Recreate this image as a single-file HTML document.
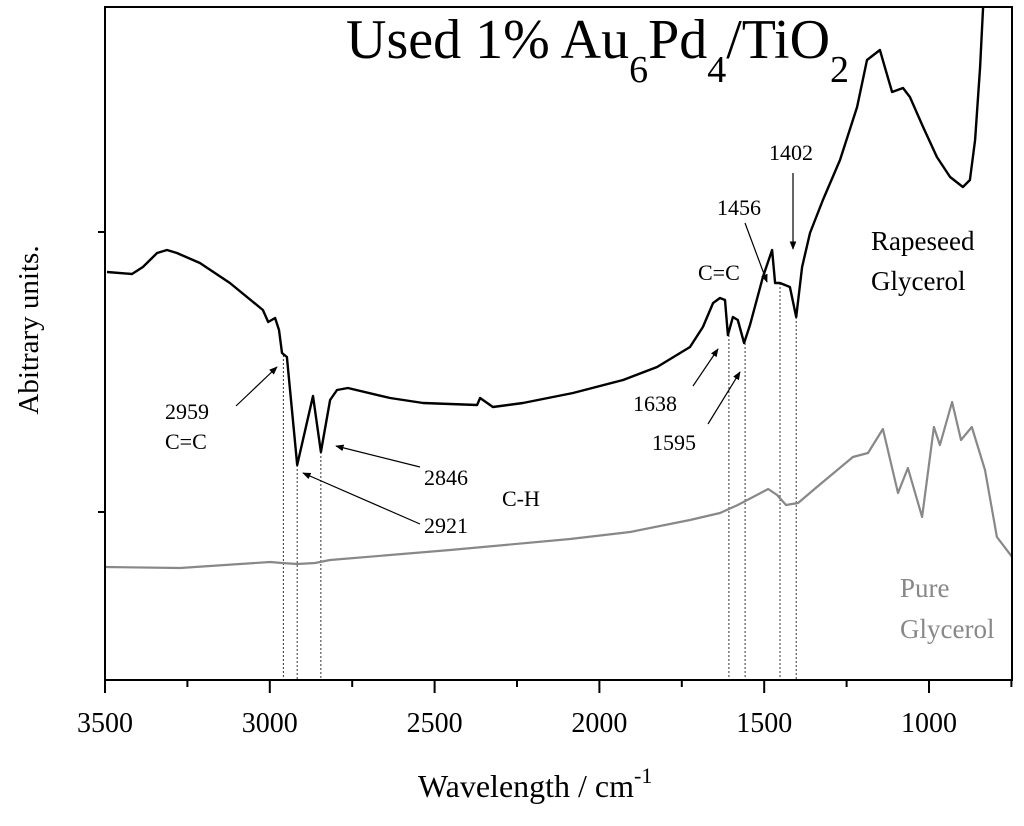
<!DOCTYPE html>
<html><head><meta charset="utf-8"><style>
body{margin:0;background:#fff}
svg text{font-family:"Liberation Serif",serif}
</style></head><body>
<svg id="chart" width="1024" height="821" viewBox="0 0 1024 821" xmlns="http://www.w3.org/2000/svg">
<g id="plot"></g>
</svg>
<script>
const rapeseedWn=[3494,3418,3385,3342,3312,3282,3212,3121,3021,3005,2984,2972,2963,2948,2917,2869,2845,2817,2796,2763,2635,2535,2371,2362,2323,2232,2080,1928,1825,1725,1686,1655,1634,1619,1610,1595,1580,1561,1543,1504,1476,1467,1452,1422,1403,1385,1361,1322,1270,1218,1188,1149,1134,1112,1079,1058,1018,976,936,897,876,860,845,836,830];
const rapeseedAbs=[4.08,4.06,4.13,4.27,4.30,4.27,4.17,3.97,3.70,3.58,3.62,3.50,3.27,3.23,2.15,2.84,2.28,2.80,2.90,2.92,2.82,2.77,2.75,2.82,2.73,2.77,2.87,3.00,3.13,3.33,3.53,3.77,3.82,3.80,3.45,3.63,3.60,3.37,3.55,4.03,4.30,3.97,3.97,3.93,3.63,4.13,4.47,4.80,5.20,5.73,6.20,6.30,6.13,5.88,5.92,5.83,5.53,5.23,5.03,4.93,5.00,5.40,6.13,6.73,7.00];
const pureWn=[3500,3272,2999,2963,2917,2863,2817,2453,2089,1907,1725,1634,1580,1488,1461,1434,1397,1340,1231,1185,1140,1094,1064,1021,985,967,930,903,870,830,794,748];
const pureAbs=[1.13,1.12,1.18,1.17,1.16,1.17,1.20,1.30,1.41,1.48,1.60,1.67,1.75,1.91,1.85,1.75,1.77,1.93,2.23,2.27,2.51,1.87,2.12,1.63,2.53,2.35,2.78,2.40,2.53,2.10,1.43,1.23];
const xTicks=[3500,3000,2500,2000,1500,1000];
const xMinor=[3250,2750,2250,1750,1250,750];
const yTicks=[1.68,4.48];
const peakWn=[2959,2917,2845,1607,1558,1452,1403];
const peakAbs=[3.25,2.15,2.28,3.45,3.37,3.97,3.63];

const L=105,R=1012,T=7,B=680;
const X=v=>L+(3500-v)*0.3296;
const Y=a=>B-a*100;
const NS="http://www.w3.org/2000/svg";
const g=document.getElementById('plot');
function mk(tag,at,parent){const e=document.createElementNS(NS,tag);for(const k in at)e.setAttribute(k,at[k]);(parent||g).appendChild(e);return e;}

const clip=mk('clipPath',{id:'pc'});mk('rect',{x:L,y:T,width:R-L,height:B-T},clip);

peakWn.forEach((w,i)=>{
 const l=mk('line',{x1:X(w),x2:X(w),y1:Y(peakAbs[i]),y2:B,stroke:'#000','stroke-width':0.8,'stroke-dasharray':'2,2'});
 
 
});

function series(wn,ab,color,w,name){
 const d=wn.map((v,i)=>(i?'L':'M')+X(v).toFixed(1)+','+Y(ab[i]).toFixed(1)).join('');
 const p=mk('path',{d:d,fill:'none',stroke:color,'stroke-width':w,'clip-path':'url(#pc)','stroke-linejoin':'round'});
 
 
}
series(pureWn,pureAbs,'#888',2.2,'pure-glycerol-line');
series(rapeseedWn,rapeseedAbs,'#000',2.4,'rapeseed-glycerol-line');

const fr=mk('rect',{x:L,y:T,width:R-L,height:B-T,fill:'none',stroke:'#000','stroke-width':2});



xTicks.forEach(v=>{
 mk('line',{x1:X(v),x2:X(v),y1:B,y2:B+13,stroke:'#000','stroke-width':2});
 const t=mk('text',{x:X(v),y:732,'font-size':28,'text-anchor':'middle'});t.textContent=v;
 
 
});
xMinor.forEach(v=>{mk('line',{x1:X(v),x2:X(v),y1:B,y2:B+7,stroke:'#000','stroke-width':2});});
yTicks.forEach(a=>{mk('line',{x1:L,x2:L-7,y1:Y(a),y2:Y(a),stroke:'#000','stroke-width':2});});
</script>
<svg width="1024" height="821" style="position:absolute;left:0;top:0" xmlns="http://www.w3.org/2000/svg">
<defs><marker id="ah2" viewBox="0 0 10 10" refX="9" refY="5" markerWidth="7" markerHeight="7" orient="auto"><path d="M0,1 L10,5 L0,9 z" fill="#000"/></marker></defs>
<g font-family="Liberation Serif, serif">
<text x="346" y="58" font-size="56">Used 1% Au<tspan font-size="38" dy="24">6</tspan><tspan dy="-24">Pd</tspan><tspan font-size="38" dy="24">4</tspan><tspan dy="-24">/TiO</tspan><tspan font-size="38" dy="24">2</tspan></text>
<text transform="translate(38,330) rotate(-90)" font-size="29" text-anchor="middle">Abitrary units.</text>
<text x="418" y="797" font-size="32">Wavelength / cm<tspan font-size="22" dy="-14">-1</tspan></text>
<g font-size="22" stroke-width="1.2">
<text x="165" y="419">2959</text><text x="165" y="449">C=C</text>
<line x1="236" y1="406" x2="277" y2="367" stroke="#000" marker-end="url(#ah2)"/>
<text x="424" y="485">2846</text>
<line x1="420" y1="467" x2="336" y2="446" stroke="#000" marker-end="url(#ah2)"/>
<text x="424" y="533">2921</text>
<line x1="420" y1="524" x2="303" y2="473" stroke="#000" marker-end="url(#ah2)"/>
<text x="502" y="506">C-H</text>
<text x="633" y="411">1638</text>
<line x1="693" y1="386" x2="718" y2="349" stroke="#000" marker-end="url(#ah2)"/>
<text x="652" y="450">1595</text>
<line x1="708" y1="424" x2="740" y2="372" stroke="#000" marker-end="url(#ah2)"/>
<text x="698" y="280">C=C</text>
<text x="717" y="215">1456</text>
<line x1="745" y1="223" x2="767" y2="282" stroke="#000" marker-end="url(#ah2)"/>
<text x="769" y="160">1402</text>
<line x1="793" y1="173" x2="793" y2="249" stroke="#000" marker-end="url(#ah2)"/>
</g>
<text x="871" y="250" font-size="27">Rapeseed</text>
<text x="871" y="290" font-size="27">Glycerol</text>
<text x="900" y="597" font-size="27" fill="#888">Pure</text>
<text x="900" y="638" font-size="27" fill="#888">Glycerol</text>
</g>
</svg>
</body></html>
